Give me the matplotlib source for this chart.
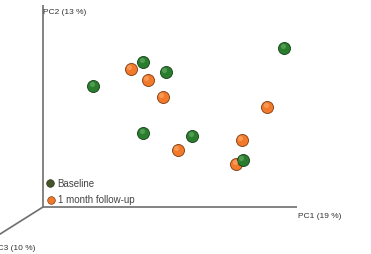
import matplotlib
matplotlib.use("Agg")
import matplotlib.pyplot as plt

# PCoA scores, scaled so each axis runs 0..1 along its drawn line
baseline_pc1 = [0.197, 0.394, 0.484, 0.949, 0.394, 0.587, 0.787]
baseline_pc2 = [0.605, 0.725, 0.675, 0.795, 0.370, 0.355, 0.235]
followup_pc1 = [0.346, 0.413, 0.472, 0.882, 0.783, 0.531, 0.760]
followup_pc2 = [0.690, 0.635, 0.550, 0.500, 0.335, 0.285, 0.215]

axis_labels = ["PC1 (19 %)", "PC2 (13 %)", "PC3 (10 %)"]
group_labels = ["Baseline", "1 month follow-up"]

green = "#2b7d2e"
orange = "#f2782a"

plt.rcParams['font.family'] = ['Liberation Sans', 'DejaVu Sans']

fig = plt.figure(figsize=(3.71, 2.55), dpi=100)
ax = fig.add_axes([43 / 371, 47 / 255, 254 / 371, 200 / 255])
ax.set_xlim(0, 1)
ax.set_ylim(0, 1)
ax.axis("off")

# axes of the 3d view
line_kw = dict(color="#6e6e6e", lw=1.2, clip_on=False, solid_capstyle="butt")
ax.plot([0, 1], [0, 0], **line_kw)
ax.plot([0, 0], [0, 1.01], **line_kw)
ax.plot([0, -0.2], [0, -0.16], **line_kw)

ax.text(1.003, -0.025, axis_labels[0], fontsize=6, color="#333333", va="top", ha="left")
ax.text(0, 0.978, axis_labels[1], fontsize=6, color="#333333", va="center", ha="left")
ax.text(-0.2, -0.205, axis_labels[2], fontsize=6, color="#333333", va="center", ha="left")


def spheres(x, y, col, dark, light):
    ax.scatter(x, y, s=75, color=col, edgecolor=dark, linewidth=0.6, zorder=3, clip_on=False)
    ax.scatter([v - 0.006 for v in x], [v + 0.01 for v in y], s=14, color=light,
               alpha=0.45, linewidth=0, zorder=4, clip_on=False)


spheres(followup_pc1, followup_pc2, orange, "#7a3a10", "#ffc08a")
spheres(baseline_pc1, baseline_pc2, green, "#123d14", "#7cc27e")

# legend
ax.scatter([0.027], [0.12], s=30, color="#44552a", edgecolor="#2a3318", linewidth=0.5, clip_on=False)
ax.scatter([0.031], [0.037], s=30, color=orange, edgecolor="#7a3a10", linewidth=0.5, clip_on=False)
ax.text(0.058, 0.12, group_labels[0], fontsize=7, color="#444444", va="center")
ax.text(0.058, 0.04, group_labels[1], fontsize=7, color="#444444", va="center")

fig.savefig("out.png", dpi=100, facecolor="white")
